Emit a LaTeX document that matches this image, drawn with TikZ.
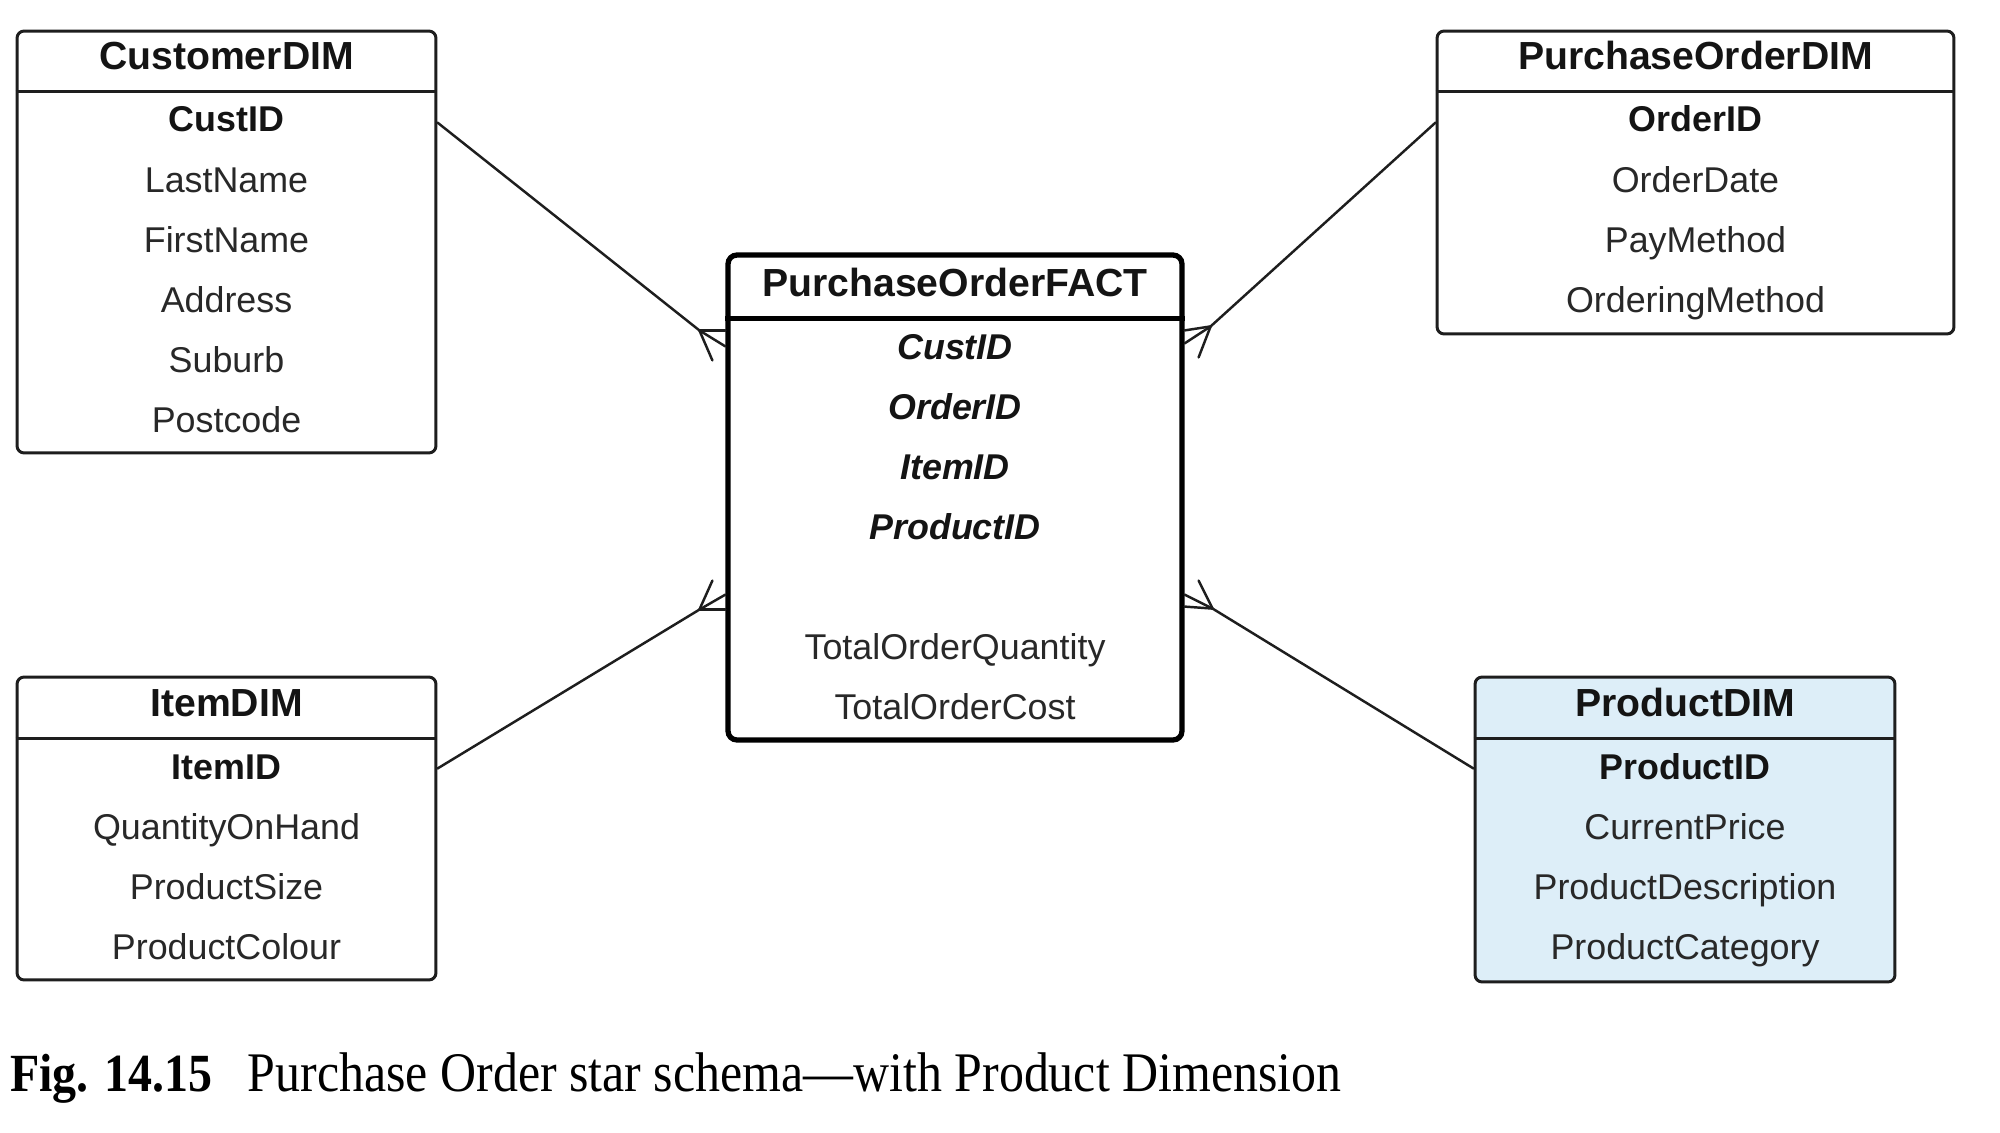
\documentclass[tikz,border=0pt]{standalone}
\usepackage{fontspec}
\setmainfont{Liberation Serif}
\newfontfamily\arialf{Liberation Sans}
\usetikzlibrary{calc}
\definecolor{prodblue}{RGB}{221,238,248}
\definecolor{txtgray}{RGB}{40,40,40}
\definecolor{linegray}{RGB}{30,30,30}
\begin{document}
\begin{tikzpicture}[x=0.02cm,y=-0.02cm,
 dimbox/.style={draw=linegray, line width=1.7pt, rounded corners=4pt, inner sep=0pt},
 factbox/.style={draw=black, line width=3pt, rounded corners=5pt, inner sep=0pt},
 sepline/.style={draw=linegray, line width=1.7pt},
 factsep/.style={draw=black, line width=3pt},
 dimtitle/.style={anchor=base, font=\arialf\bfseries\fontsize{22.3}{26}\selectfont, text=black!92, inner sep=0pt},
 facttitle/.style={dimtitle},
 attr/.style={anchor=base, font=\arialf\fontsize{20.4}{24}\selectfont, text=txtgray, inner sep=0pt},
 keyattr/.style={attr, font=\arialf\bfseries\fontsize{20.4}{24}\selectfont, text=black!92},
 fkattr/.style={attr, font=\arialf\bfseries\itshape\fontsize{20.4}{24}\selectfont, text=black!92},
 conn/.style={draw=linegray, line width=1.4pt, line cap=round, line join=round},
]
\fill[white] (0,0) rectangle (2000,1132);
\path[use as bounding box] (0,0) rectangle (2000,1132);

% ---------- boxes ----------
\node[dimbox, minimum width=8.38cm, minimum height=8.44cm] (cust) at (226.5,242) {};
\node[dimbox, minimum width=10.34cm, minimum height=6.06cm] (pod) at (1695.5,182.5) {};
\node[dimbox, minimum width=8.38cm, minimum height=6.06cm] (item) at (226.5,828.5) {};
\node[dimbox, fill=prodblue, minimum width=8.4cm, minimum height=6.1cm] (prod) at (1685,829.5) {};
\node[factbox, minimum width=9.08cm, minimum height=9.7cm] (fact) at (955,497.5) {};

% ---------- header separators ----------
\draw[sepline] ($(cust.north west)+(0,62)$) -- ($(cust.north east)+(0,62)$);
\draw[sepline] ($(pod.north west)+(0,62)$) -- ($(pod.north east)+(0,62)$);
\draw[sepline] ($(item.north west)+(0,63)$) -- ($(item.north east)+(0,63)$);
\draw[sepline] ($(prod.north west)+(0,63)$) -- ($(prod.north east)+(0,63)$);
\draw[factsep] ($(fact.north west)+(0,66)$) -- ($(fact.north east)+(0,66)$);

% ---------- CustomerDIM ----------
\node[dimtitle] (custT) at (226.5,70) {CustomerDIM};
\node[keyattr] (c1) at (226.5,132) {CustID};
\node[attr] (c2) at (226.5,192) {LastName};
\node[attr] (c3) at (226.5,252) {FirstName};
\node[attr] (c4) at (226.5,312) {Address};
\node[attr] (c5) at (226.5,372) {Suburb};
\node[attr] (c6) at (226.5,432) {Postcode};

% ---------- PurchaseOrderDIM ----------
\node[dimtitle] (podT) at (1695.5,70) {PurchaseOrderDIM};
\node[keyattr] (p1) at (1695.5,132) {OrderID};
\node[attr] (p2) at (1695.5,192) {OrderDate};
\node[attr] (p3) at (1695.5,252) {PayMethod};
\node[attr] (p4) at (1695.5,312) {OrderingMethod};

% ---------- ItemDIM ----------
\node[dimtitle] (itemT) at (226.5,716) {ItemDIM};
\node[keyattr] (i1) at (226.5,779) {ItemID};
\node[attr] (i2) at (226.5,839) {QuantityOnHand};
\node[attr] (i3) at (226.5,899) {ProductSize};
\node[attr] (i4) at (226.5,959) {ProductColour};

% ---------- ProductDIM ----------
\node[dimtitle] (prodT) at (1685,716) {ProductDIM};
\node[keyattr] (r1) at (1685,779) {ProductID};
\node[attr] (r2) at (1685,839) {CurrentPrice};
\node[attr] (r3) at (1685,899) {ProductDescription};
\node[attr] (r4) at (1685,959) {ProductCategory};

% ---------- PurchaseOrderFACT ----------
\node[facttitle] (factT) at (955,296) {PurchaseOrderFACT};
\node[fkattr] (f1) at (955,359) {CustID};
\node[fkattr] (f2) at (955,419) {OrderID};
\node[fkattr] (f3) at (955,479) {ItemID};
\node[fkattr] (f4) at (955,539) {ProductID};
\node[attr] (f5) at (955,659) {TotalOrderQuantity};
\node[attr] (f6) at (955,719) {TotalOrderCost};

% ---------- connectors with crow's feet ----------
% top left
\coordinate (tlP) at ($(fact.north west)+(-26,78)$);
\draw[conn] ($(cust.north east)+(0,93)$) -- (tlP);
\draw[conn] (tlP) -- ($(fact.north west)+(0,78)$);
\draw[conn] (tlP) -- ($(fact.north west)+(0,94)$);
\draw[conn] (tlP) -- ($(fact.north west)+(-13,108)$);
% top right
\coordinate (trP) at ($(fact.north east)+(26,74)$);
\draw[conn] ($(pod.north west)+(0,93)$) -- (trP);
\draw[conn] (trP) -- ($(fact.north east)+(0,78)$);
\draw[conn] (trP) -- ($(fact.north east)+(0,91)$);
\draw[conn] (trP) -- ($(fact.north east)+(14,105)$);
% bottom left
\coordinate (blP) at ($(fact.south west)+(-26,-133)$);
\draw[conn] ($(item.north east)+(0,93)$) -- (blP);
\draw[conn] (blP) -- ($(fact.south west)+(0,-133)$);
\draw[conn] (blP) -- ($(fact.south west)+(0,-148)$);
\draw[conn] (blP) -- ($(fact.south west)+(-13,-162)$);
% bottom right
\coordinate (brP) at ($(fact.south east)+(28,-134)$);
\draw[conn] ($(prod.north west)+(0,93)$) -- (brP);
\draw[conn] (brP) -- ($(fact.south east)+(0,-136)$);
\draw[conn] (brP) -- ($(fact.south east)+(0,-148)$);
\draw[conn] (brP) -- ($(fact.south east)+(14,-162)$);

% ---------- caption ----------
\node[anchor=base west, inner sep=0pt] (caption) at (10,1091)
 {\scalebox{1}[1.12]{\fontsize{27.3}{34}\selectfont\textbf{Fig. 14.15}\hspace{20pt}\fontsize{28.4}{34}\selectfont Purchase Order star schema—with Product Dimension}};
\end{tikzpicture}
\end{document}
